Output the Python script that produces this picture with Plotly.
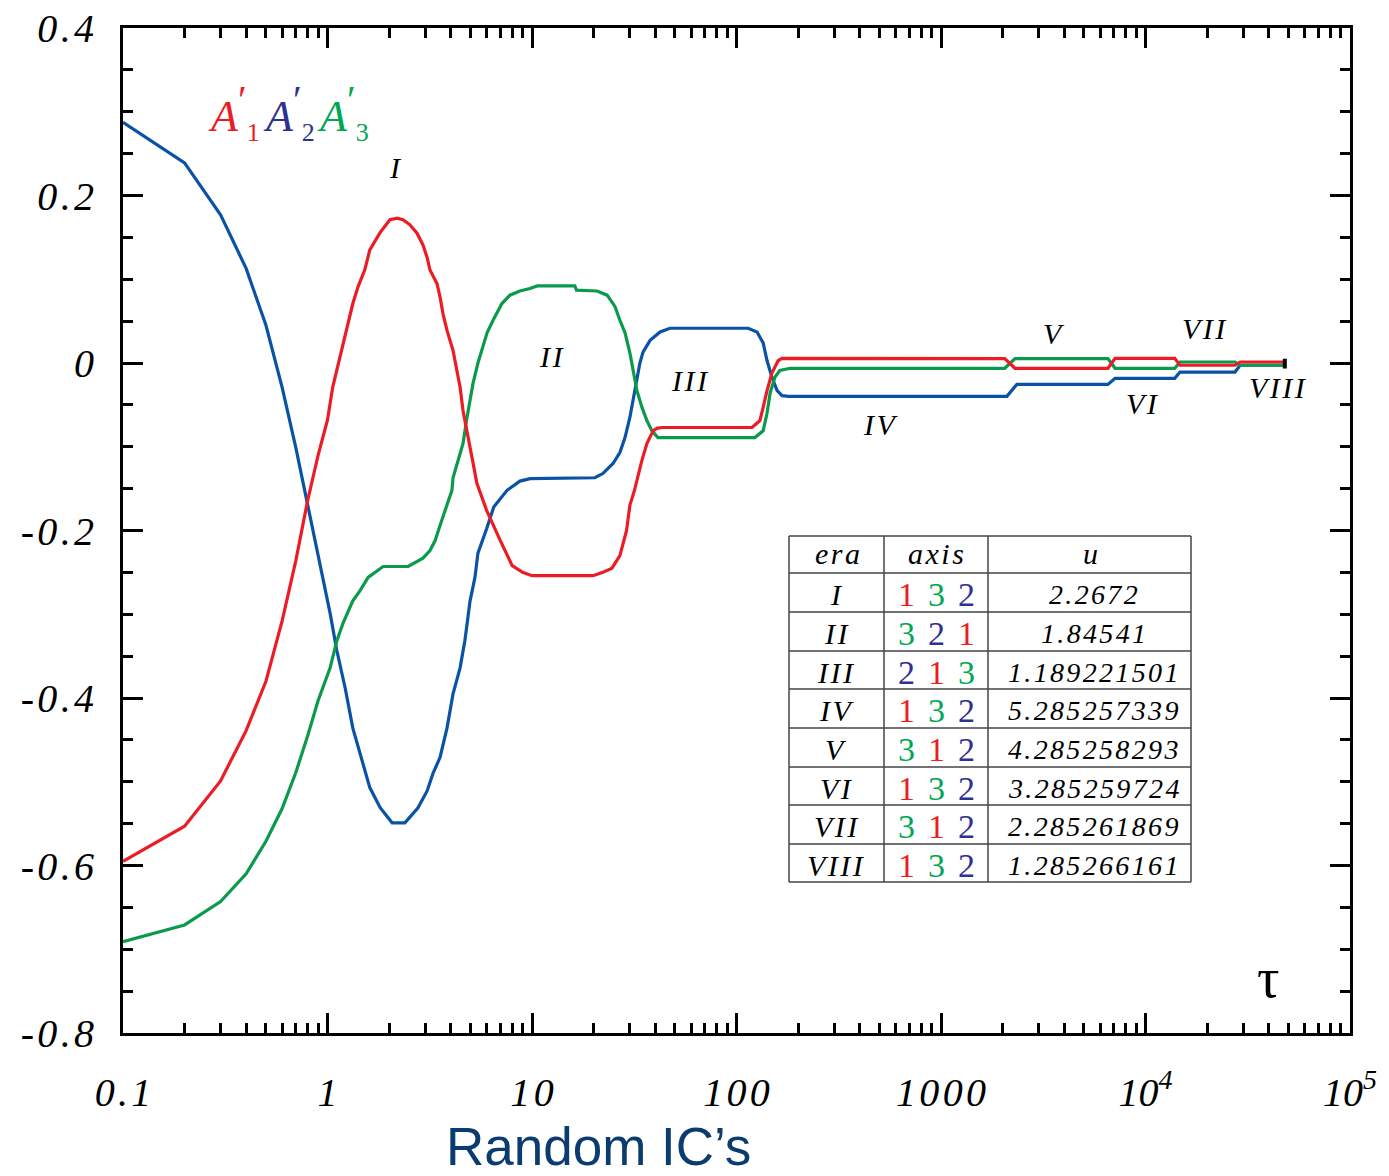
import math
import plotly.graph_objects as go

# ---- series data: scale factors A'_1, A'_2, A'_3 versus tau ----
a1_x = [0.1, 0.2, 0.3, 0.4, 0.5, 0.6, 0.7, 0.8, 0.9, 1.0, 1.06, 1.11, 1.19, 1.26, 1.33, 1.41, 1.52, 1.61,
        1.81, 2.02, 2.19, 2.34, 2.53, 2.74, 2.93, 3.07, 3.17, 3.43, 3.55, 3.67, 3.84, 4.11, 4.30, 4.45,
        4.60, 4.81, 5.09, 5.38, 6.0, 7.0, 8.0, 9.0, 10, 19.9, 22.2, 24.6, 26.9, 29, 30.1, 31.7, 32.6,
        34.5, 36.5, 39.1, 40.8, 43.2, 119, 130, 135, 141, 149, 160, 167, 2050, 2300, 6550, 7100,
        13900, 14750, 27400, 29000, 48000]
a1_y = [-0.595, -0.553, -0.499, -0.439, -0.380, -0.308, -0.236, -0.164, -0.110, -0.068, -0.029, -0.009,
        0.024, 0.048, 0.071, 0.091, 0.111, 0.135, 0.156, 0.171, 0.173, 0.171, 0.165, 0.155, 0.141,
        0.126, 0.111, 0.095, 0.079, 0.059, 0.039, 0.015, -0.009, -0.029, -0.057, -0.084, -0.113,
        -0.144, -0.176, -0.212, -0.242, -0.250, -0.254, -0.254, -0.250, -0.245, -0.230, -0.200,
        -0.170, -0.152, -0.140, -0.116, -0.096, -0.081, -0.078, -0.077, -0.077, -0.069, -0.053,
        -0.033, -0.012, 0.003, 0.0055, 0.0053, -0.0063, -0.0063, 0.0055, 0.0055, -0.0027, -0.0027,
        0.0012, 0.0012]

a2_x = [0.1, 0.2, 0.3, 0.4, 0.5, 0.6, 0.7, 0.8, 0.9, 1.03, 1.11, 1.22, 1.33, 1.47, 1.61, 1.81, 2.07,
        2.39, 2.77, 3.07, 3.28, 3.55, 3.84, 4.11, 4.45, 4.70, 4.81, 4.98, 5.26, 5.44, 6.0, 6.5, 7.55,
        8.73, 9.78, 20.3, 22.2, 24.9, 26.9, 28.5, 30.1, 31.2, 32.6, 33.7, 34.9, 37.8, 42.3, 47.3, 114,
        126, 135, 141, 149, 158, 167, 180, 2100, 2350, 6550, 7100, 13900, 14750, 27400, 29000, 48000]
a2_y = [0.2875, 0.239, 0.177, 0.113, 0.045, -0.029, -0.101, -0.170, -0.230, -0.299, -0.343, -0.388,
        -0.436, -0.475, -0.507, -0.531, -0.549, -0.549, -0.531, -0.511, -0.490, -0.471, -0.436,
        -0.395, -0.364, -0.331, -0.311, -0.284, -0.256, -0.227, -0.198, -0.172, -0.152, -0.141,
        -0.138, -0.137, -0.132, -0.120, -0.107, -0.089, -0.065, -0.045, -0.021, 0.000, 0.013, 0.027,
        0.037, 0.0415, 0.0415, 0.037, 0.024, 0.003, -0.017, -0.033, -0.039, -0.0398, -0.0398,
        -0.0255, -0.0255, -0.0183, -0.0183, -0.0108, -0.0108, -0.0027, -0.0027]

a3_x = [0.1, 0.2, 0.3, 0.4, 0.5, 0.6, 0.7, 0.8, 0.9, 1.03, 1.11, 1.19, 1.33, 1.44, 1.58, 1.87, 2.48,
        2.93, 3.17, 3.36, 3.55, 3.84, 4.06, 4.11, 4.35, 4.60, 4.81, 4.98, 5.15, 5.44, 5.76, 6.03, 6.45,
        7.13, 7.80, 8.73, 9.78, 10.6, 16.2, 16.5, 20.8, 23.3, 24.9, 25.5, 26.9, 28.5, 30.1, 31.2,
        32.6, 34.5, 36.5, 38.6, 40.8, 41.3, 123, 135, 141, 146, 154, 163, 183, 2050, 2300, 6550,
        7100, 13900, 14750, 27400, 29000, 48000]
a3_y = [-0.691, -0.671, -0.643, -0.610, -0.571, -0.532, -0.489, -0.445, -0.403, -0.364, -0.332, -0.311,
        -0.284, -0.272, -0.256, -0.243, -0.243, -0.233, -0.224, -0.212, -0.194, -0.170, -0.152,
        -0.137, -0.116, -0.096, -0.065, -0.045, -0.024, 0.000, 0.019, 0.036, 0.051, 0.071, 0.081,
        0.086, 0.089, 0.092, 0.092, 0.087, 0.086, 0.081, 0.071, 0.067, 0.051, 0.036, 0.012, -0.009,
        -0.033, -0.053, -0.069, -0.081, -0.088, -0.089, -0.089, -0.081, -0.060, -0.036, -0.017,
        -0.009, -0.0063, -0.0063, 0.0053, 0.0053, -0.0063, -0.0063, 0.0012, 0.0012, -0.0027, -0.0027]

# ---- axis ticks ----
x_tickvals = [0.1, 1, 10, 100, 1000, 1e4, 1e5]
x_ticktext = ["0.1", "1", "10", "100", "1000", "10<sup>4</sup>", "10<sup>5</sup>"]
y_tickvals = [0.4, 0.2, 0, -0.2, -0.4, -0.6, -0.8]
y_ticktext = ["0.4", "0.2", "0", "-0.2", "-0.4", "-0.6", "-0.8"]

# ---- era table ----
eras = ["I", "II", "III", "IV", "V", "VI", "VII", "VIII"]
era_axes = ["132", "321", "213", "132", "312", "132", "312", "132"]
era_u = ["2.2672", "1.84541", "1.189221501", "5.285257339", "4.285258293",
         "3.285259724", "2.285261869", "1.285266161"]

# era labels along the curves (tau, value)
era_label_x = [2.16, 12.4, 59.3, 504, 3573, 9620, 19540, 44460]
era_label_y = [0.233, 0.008, -0.021, -0.073, 0.0356, -0.048, 0.0415, -0.029]

RED, BLUE, GREEN = "#ec1c24", "#0a52a5", "#0b9a4c"
TXT_RED, TXT_BLUE, TXT_GREEN = "#ed1c24", "#2e3192", "#00a651"
digit_color = {"1": TXT_RED, "2": TXT_BLUE, "3": TXT_GREEN}

W, H = 1389, 1176
ML, MR, MT, MB = 123, 39, 28, 143
PW, PH = W - ML - MR, H - MT - MB
SERIF = "Liberation Serif, DejaVu Serif, serif"
HS = "\u200a"


def spaced(s):
    return HS.join(s)


def px(x):
    return (x - ML) / PW


def py(y):
    return (H - MB - y) / PH


fig = go.Figure()
for xs, ys, col in [(a2_x, a2_y, BLUE), (a3_x, a3_y, GREEN), (a1_x, a1_y, RED)]:
    fig.add_trace(go.Scatter(x=xs, y=ys, mode="lines", line=dict(color=col, width=3.2),
                             hoverinfo="skip"))

# black end cap where the curves terminate
fig.add_trace(go.Scatter(x=[a1_x[-1]], y=[(a1_y[-1] + a3_y[-1]) / 2], mode="markers",
                         marker=dict(symbol="line-ns", size=7,
                                     line=dict(color="black", width=4)),
                         hoverinfo="skip"))

minor_x = [m * 10 ** e for e in range(-1, 5) for m in range(2, 10)]

fig.update_xaxes(
    type="log", range=[-1, 5], showgrid=False, zeroline=False, automargin=False,
    showline=True, linecolor="black", linewidth=3, mirror="allticks",
    ticks="inside", ticklen=20, tickwidth=2.5, tickcolor="black",
    tickmode="array", tickvals=x_tickvals,
    ticktext=[spaced(t) if "<" not in t else t for t in x_ticktext],
    tickfont=dict(family=SERIF, size=40, style="italic", color="black"),
    ticklabelstandoff=22,
    minor=dict(tickmode="array", tickvals=minor_x, ticks="inside", ticklen=10,
               tickwidth=2.5, tickcolor="black", showgrid=False),
)
fig.update_yaxes(
    range=[-0.8, 0.4], showgrid=False, zeroline=False, automargin=False,
    showline=True, linecolor="black", linewidth=3, mirror="allticks",
    ticks="inside", ticklen=20, tickwidth=2.5, tickcolor="black",
    tickmode="array", tickvals=y_tickvals, ticktext=[spaced(t) for t in y_ticktext],
    tickfont=dict(family=SERIF, size=40, style="italic", color="black"),
    ticklabelstandoff=18,
    minor=dict(tickmode="linear", tick0=0, dtick=0.05, ticks="inside", ticklen=10,
               tickwidth=2.5, tickcolor="black", showgrid=False),
)

ann = []


def text(x, y, s, size, color="black", italic=False, family=SERIF, xanchor="center"):
    ann.append(dict(x=px(x), y=py(y), xref="paper", yref="paper", text=s, showarrow=False,
                    xanchor=xanchor, yanchor="middle",
                    font=dict(family=family, size=size, color=color,
                              style="italic" if italic else "normal")))


# curve legend  A'_1 A'_2 A'_3
for lx, col, sub in [(206, TXT_RED, "1"), (261, TXT_BLUE, "2"), (315, TXT_GREEN, "3")]:
    text(lx, 112,
         "<i>A</i><sup><span style='font-size:40px'>\u2032</span></sup>"
         "<sub><span style='font-size:26px'>" + sub + "</span></sub>",
         44, col, xanchor="left")

# era labels on the curves
for name, ex, ey in zip(eras, era_label_x, era_label_y):
    ann.append(dict(x=math.log10(ex), y=ey, xref="x", yref="y", text=spaced(name),
                    showarrow=False, xanchor="center", yanchor="middle",
                    font=dict(family=SERIF, size=30, color="black", style="italic")))

# tau marker and x title
text(1268, 978, "\u03c4", 56)
text(598, 1146, "Random IC\u2019s", 53, "#0b3c70", family="Liberation Sans, Arial, sans-serif")

# table
cols = [789, 884, 988, 1191]
rows = [536, 573, 612, 651, 689, 728, 767, 805, 844, 882]
shapes = []
for cx in cols:
    shapes.append(dict(type="line", xref="paper", yref="paper", x0=px(cx), x1=px(cx),
                       y0=py(rows[0]), y1=py(rows[-1]), line=dict(color="#444", width=1.5)))
for ry in rows:
    shapes.append(dict(type="line", xref="paper", yref="paper", x0=px(cols[0]), x1=px(cols[-1]),
                       y0=py(ry), y1=py(ry), line=dict(color="#444", width=1.5)))

text(837, 553, spaced("era"), 30, italic=True)
text(936, 553, spaced("axis"), 30, italic=True)
text(1090, 553, "u", 30, italic=True)
for i, (name, axes, u) in enumerate(zip(eras, era_axes, era_u)):
    yc = (rows[i + 1] + rows[i + 2]) / 2 + 2
    text(836, yc, spaced(name), 30, italic=True)
    for j, d in enumerate(axes):
        text(906 + 30 * j, yc, d, 34, digit_color[d])
    text(1093, yc, spaced(u), 28, italic=True)

fig.update_layout(
    width=W, height=H, margin=dict(l=ML, r=MR, t=MT, b=MB),
    plot_bgcolor="white", paper_bgcolor="white", showlegend=False,
    annotations=ann, shapes=shapes,
)
fig.write_html("out.html")
